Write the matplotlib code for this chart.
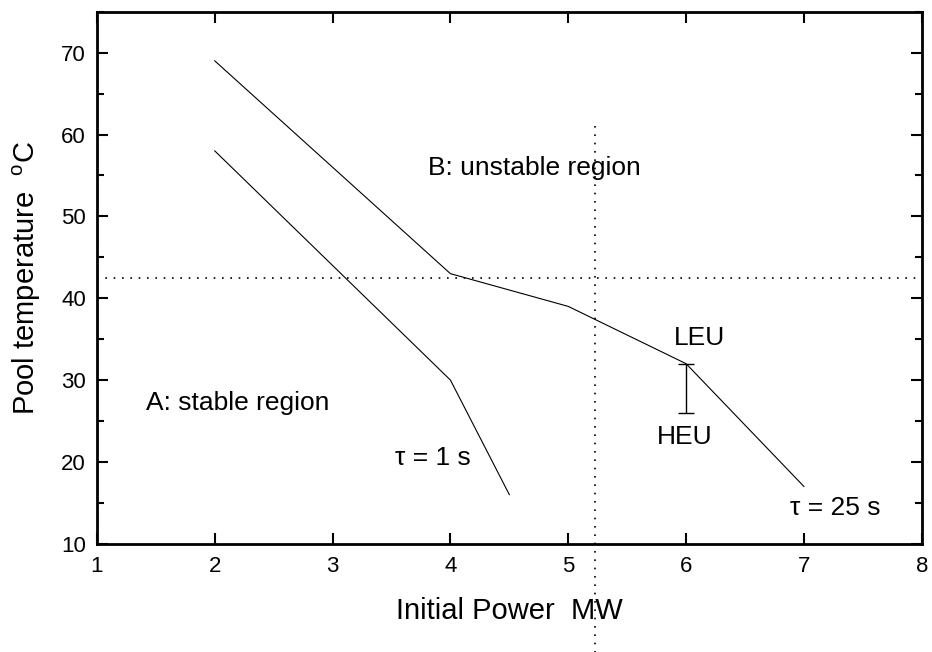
import numpy as np
import matplotlib.pyplot as plt
from matplotlib.ticker import MultipleLocator

plt.rcParams['font.family'] = ['Liberation Sans', 'DejaVu Sans']
plt.rcParams['mathtext.fontset'] = 'custom'
plt.rcParams['mathtext.rm'] = 'Liberation Sans'

# stability boundary, tau = 25 s
power_25 = [2, 4, 5, 6, 7]
temp_25 = [69, 43, 39, 32, 17]

# stability boundary, tau = 1 s
power_1 = [2, 4, 4.5]
temp_1 = [58, 30, 16]

# LEU / HEU spread at 6 MW
bar_x = 6
bar_lo = 26
bar_hi = 32

# reference lines
ref_temp = 42.5
ref_power = 5.23
ref_power_top = 61

fig = plt.figure(figsize=(9.32, 6.52), dpi=100)
ax = fig.add_axes([0.104, 0.166, 0.885, 0.816])

ax.plot(power_25, temp_25, color='black', lw=0.8)
ax.plot(power_1, temp_1, color='black', lw=0.8)
ax.errorbar([bar_x], [bar_hi], yerr=[[bar_hi - bar_lo], [0]], fmt='none',
            ecolor='black', elinewidth=1.0, capsize=6, capthick=1.0)

ax.axhline(ref_temp, color='black', lw=1.2, ls=(0, (1, 4)))
# vertical line runs past the bottom of the axes
ax.plot([ref_power, ref_power], [ref_power_top, -4], color='black', lw=1.2,
        ls=(0, (1, 4)), clip_on=False)

fs = 19
ax.text(3.81, 55.9, 'B: unstable region', fontsize=fs, va='center')
ax.text(1.42, 27.2, 'A: stable region', fontsize=fs, va='center')
ax.text(3.53, 20.5, 'τ = 1 s', fontsize=fs, va='center')
ax.text(6.88, 14.4, 'τ = 25 s', fontsize=fs, va='center')
ax.text(5.90, 35.2, 'LEU', fontsize=fs, va='center')
ax.text(5.75, 23.0, 'HEU', fontsize=fs, va='center')

ax.set_xlim(1, 8)
ax.set_ylim(10, 75)
ax.xaxis.set_major_locator(MultipleLocator(1))
ax.yaxis.set_major_locator(MultipleLocator(10))
ax.yaxis.set_minor_locator(MultipleLocator(5))

ax.tick_params(which='both', direction='in', top=True, right=True, width=1.5)
ax.tick_params(which='major', length=8, labelsize=16)
ax.tick_params(which='minor', length=5)
ax.tick_params(axis='y', pad=8)
ax.tick_params(axis='x', pad=9)
for s in ax.spines.values():
    s.set_linewidth(2)

ax.set_xlabel('Initial Power  MW', fontsize=21, labelpad=14)
ax.set_ylabel(r'Pool temperature  $^{\rm o}$C', fontsize=21, labelpad=13)

fig.savefig('out.png', dpi=100)
